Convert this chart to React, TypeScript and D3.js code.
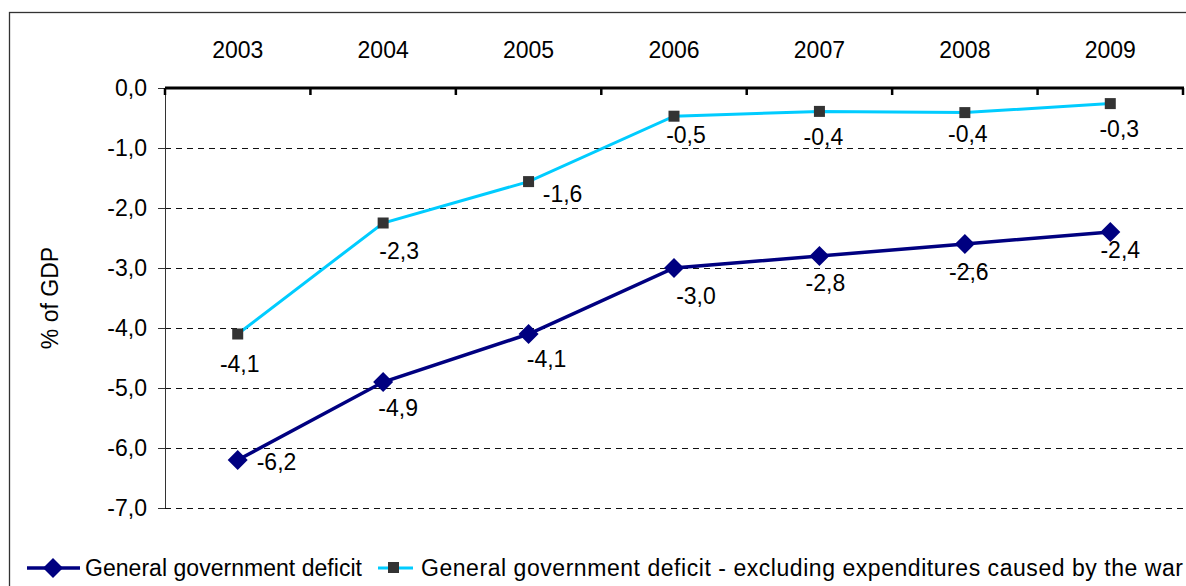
import React from "react";
import * as d3 from "d3";

const years = ["2003", "2004", "2005", "2006", "2007", "2008", "2009"];
const deficit = [-6.2, -4.9, -4.1, -3.0, -2.8, -2.6, -2.4];
const deficitExclWar = [-4.1, -2.25, -1.56, -0.47, -0.39, -0.41, -0.26];
const yTicks = [0, -1, -2, -3, -4, -5, -6, -7];
const seriesNames = [
  "General government deficit",
  "General government deficit - excluding expenditures caused by the war",
];

// label placement offsets (styling, relative to the point)
const deficitLabelOffsets: [number, number, string][] = [
  [19, 2, "start"], [15, 26, "middle"], [18, 25, "middle"], [22, 28, "middle"],
  [6, 27, "middle"], [4, 28, "middle"], [10, 18, "middle"],
];
const exclLabelOffsets: [number, number, string][] = [
  [2, 30, "middle"], [16, 28, "middle"], [34, 12, "middle"], [12, 19, "middle"],
  [4, 25, "middle"], [3, 21, "middle"], [9, 25, "middle"],
];

const FONT = "'Liberation Sans', Arial, sans-serif";
const FS = 23;
const fmt = (v: number) => d3.format(".1f")(v).replace(".", ",").replace("−", "-");

export default function App() {
  const W = 1186, H = 586;
  const left = 165, right = 1183, top = 88, bottom = 508;
  const x = d3.scaleBand<string>().domain(years).range([left, right]);
  const y = d3.scaleLinear().domain([0, -7]).range([top, bottom]);
  const cx = (i: number) => (x(years[i]) as number) + x.bandwidth() / 2;

  const line = d3
    .line<number>()
    .x((_, i) => cx(i))
    .y((d) => y(d));

  const boundaries = d3.range(years.length + 1).map((k) => left + k * x.bandwidth());
  const diamond = (s: number) => `M0,${-s}L${s},0L0,${s}L${-s},0Z`;

  return (
    <svg
      width={W}
      height={H}
      style={{ position: "absolute", left: 0, top: 0, background: "#fff" }}
      fontFamily={FONT}
    >
      <rect x={9.5} y={12.5} width={1300} height={700} fill="#fff" stroke="#333" strokeWidth={1.3} />

      {/* gridlines */}
      {yTicks.filter((t) => t !== 0).map((t) => (
        <line key={t} x1={left} x2={right} y1={y(t) + 0.5} y2={y(t) + 0.5} stroke="#111" strokeWidth={1} strokeDasharray="6,5" />
      ))}
      {/* y axis */}
      <line x1={left + 0.5} x2={left + 0.5} y1={top} y2={bottom} stroke="#333" strokeWidth={1} />
      {yTicks.map((t) => (
        <g key={"yt" + t}>
          <line x1={left - 7} x2={left} y1={y(t) + 0.5} y2={y(t) + 0.5} stroke="#333" strokeWidth={1} />
          <text x={147} y={y(t)} dy="0.36em" textAnchor="end" fontSize={FS} fill="#000">
            {fmt(t)}
          </text>
        </g>
      ))}
      {/* zero axis */}
      <line x1={left} x2={right + 1} y1={top} y2={top} stroke="#000" strokeWidth={3} />
      {boundaries.map((bx, k) => (
        <line key={"b" + k} x1={bx} x2={bx} y1={top} y2={top + 7} stroke="#000" strokeWidth={2.5} />
      ))}
      {years.map((yr, i) => (
        <text key={yr} x={cx(i)} y={50} dy="0.36em" textAnchor="middle" fontSize={FS}>
          {yr}
        </text>
      ))}
      <text
        transform={`translate(50,${(top + bottom) / 2}) rotate(-90)`}
        textAnchor="middle"
        dy="0.36em"
        fontSize={FS}
      >
        % of GDP
      </text>

      {/* series */}
      <path d={line(deficitExclWar) as string} fill="none" stroke="#00CCFF" strokeWidth={3} />
      <path d={line(deficit) as string} fill="none" stroke="#000080" strokeWidth={3.5} />
      {deficitExclWar.map((v, i) => (
        <rect key={"s" + i} x={cx(i) - 5.5} y={y(v) - 5.5} width={11} height={11} fill="#333" />
      ))}
      {deficit.map((v, i) => (
        <path key={"d" + i} d={diamond(10)} transform={`translate(${cx(i)},${y(v)})`} fill="#000080" />
      ))}
      {deficit.map((v, i) => {
        const [dx, dy, anchor] = deficitLabelOffsets[i];
        return (
          <text key={"dl" + i} x={cx(i) + dx} y={y(v) + dy} dy="0.36em" textAnchor={anchor as any} fontSize={FS}>
            {fmt(v)}
          </text>
        );
      })}
      {deficitExclWar.map((v, i) => {
        const [dx, dy, anchor] = exclLabelOffsets[i];
        return (
          <text key={"el" + i} x={cx(i) + dx} y={y(v) + dy} dy="0.36em" textAnchor={anchor as any} fontSize={FS}>
            {fmt(v)}
          </text>
        );
      })}

      {/* legend */}
      <line x1={27} x2={80} y1={568} y2={568} stroke="#000080" strokeWidth={3.5} />
      <path d={diamond(10)} transform="translate(53,568)" fill="#000080" />
      <text x={85} y={568} dy="0.36em" fontSize={FS} textLength={277} lengthAdjust="spacing">{seriesNames[0]}</text>
      <line x1={378} x2={413} y1={568} y2={568} stroke="#00CCFF" strokeWidth={3} />
      <rect x={388} y={562} width={11} height={11} fill="#333" />
      <text x={421} y={568} dy="0.36em" fontSize={FS} textLength={762} lengthAdjust="spacing">{seriesNames[1]}</text>
    </svg>
  );
}
